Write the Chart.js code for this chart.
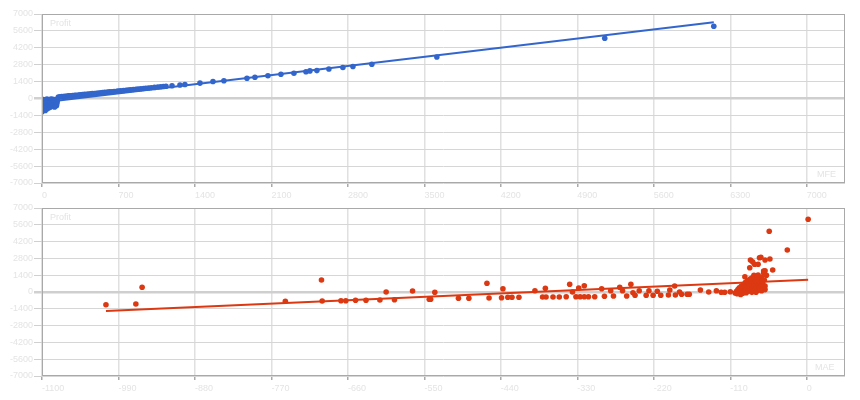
<!DOCTYPE html>
<html>
<head>
<meta charset="utf-8">
<script src="https://cdn.jsdelivr.net/npm/chart.js@4.4.1/dist/chart.umd.min.js"></script>
<style>
  html, body { margin: 0; padding: 0; background: #fff; }
  #wrap { position: relative; width: 860px; height: 400px; overflow: hidden; font-family: "Liberation Sans", Arial, sans-serif; }
  canvas { position: absolute; left: 0; }
  .lbl { position: absolute; font-size: 9px; color: #e4e4e4; white-space: nowrap; }
</style>
</head>
<body>
<div id="wrap">
  <canvas id="top" width="860" height="200" style="top:0;width:860px;height:200px"></canvas>
  <canvas id="bot" width="860" height="205" style="top:195px;width:860px;height:205px"></canvas>
  <div class="lbl" style="left:50px;top:18px">Profit</div>
  <div class="lbl" style="left:817px;top:169px">MFE</div>
  <div class="lbl" style="left:50px;top:212px">Profit</div>
  <div class="lbl" style="left:815px;top:362px">MAE</div>
</div>
<script>
// ---- data ----
const yTicks = [-7000, -5600, -4200, -2800, -1400, 0, 1400, 2800, 4200, 5600, 7000];
const mfeTicks = [0, 700, 1400, 2100, 2800, 3500, 4200, 4900, 5600, 6300, 7000];
const maeTicks = [-1100, -990, -880, -770, -660, -550, -440, -330, -220, -110, 0];

// Profit vs MFE
const mfeValues = [
  0, 5, 3, 8, 2, 10, 4, 12, 15, 18, 20, 22, 25, 28, 30, 33, 35, 38, 40, 42, 45, 48, 50, 52, 55, 58, 60, 63, 65, 68,
  70, 72, 75, 78, 80, 83, 85, 88, 90, 95, 100, 103, 106, 110, 115, 118, 120, 125, 128, 132, 135, 138, 140, 142,
  150, 165, 180, 195, 210, 230, 245, 260, 280, 300, 315, 335, 350, 370, 390, 410, 425, 445, 460, 480, 500, 520,
  540, 555, 575, 600, 620, 640, 660, 685, 700, 720, 745, 770, 790, 810, 835, 860, 880, 905, 930, 950, 975, 1000,
  1030, 1060, 1085, 1110, 1135, 1190, 1263, 1308, 1446, 1565, 1665, 1876, 1949, 2068, 2187, 2306, 2416, 2452,
  2516, 2626, 2754, 2846, 3019, 3614, 5151, 6149
];
const mfeProfit = [
  -1100, -950, -800, -650, -500, -350, -200, -80, -900, -720, -560, -400, -250, -120, -1000, -780, -600, -450, -300, -150, -50, -850, -680, -520, -380, -220, -100, -760, -620, -480,
  -330, -180, -60, -700, -560, -420, -280, -140, -40, -640, -500, -350, -200, -90, -700, -520, -380, -240, -120, -600, -450, -300, -150, -30,
  130, 140, 155, 170, 180, 200, 215, 225, 245, 260, 275, 290, 305, 320, 340, 355, 370, 390, 400, 420, 440, 455,
  470, 490, 505, 525, 545, 560, 580, 600, 615, 635, 660, 680, 700, 720, 740, 765, 780, 805, 830, 850, 870, 895,
  920, 950, 975, 1000, 1020, 1060, 1120, 1160, 1274, 1408, 1475, 1673, 1757, 1881, 2010, 2092, 2216, 2286,
  2313, 2444, 2568, 2652, 2833, 3438, 4988, 5982
];

// Profit vs MAE
const maeValues = [
  -1008, -965, -956, -750, -698, -697, -670, -663, -649, -634, -614, -605, -593, -567, -543, -541, -535, -501, -486,
  -460, -457, -439, -437, -430, -424, -414, -391, -380, -376, -375, -365, -356, -346, -341, -337, -332, -328, -326,
  -320, -320, -314, -305, -295, -291, -282, -278, -269, -265, -259, -253, -250, -247, -241, -231, -227, -221, -215,
  -210, -199, -197, -190, -189, -183, -180, -172, -169, -153, -141, -130, -123, -118, -110,
  -103, -101, -100, -99, -98, -97, -96, -95, -94, -93, -92, -91, -90, -90, -89, -88, -88, -87, -86, -85, -85, -84,
  -83, -82, -82, -81, -81, -80, -80, -79, -79, -78, -78, -78, -77, -77, -76, -76, -75, -75, -74, -74, -73, -73, -72,
  -72, -71, -70, -70, -70, -69, -68, -68, -68, -67, -66, -66, -65, -65, -64, -63, -62, -62, -61, -60, -60, -60, -60,
  -62, -54, -53, -58, -49, -64, -28, 2
];
const maeProfit = [
  -1058, -1000, 392, -775, 1000, -750, -725, -725, -692, -692, -667, 0, -642, 83, -608, -608, -20, -525, -525,
  725, -500, -475, 275, -442, -442, -442, 108, -417, 308, -417, -417, -417, -392, 642, 0, -392, 333, -392,
  525, -392, -392, -392, 275, -358, 108, -333, 392, 108, -333, 642, -58, -275, 108, -275, 108, -275, 58,
  -275, -250, 167, 500, -250, 0, -192, -192, -192, 167, 0, 108, -25, -25, 25,
  -80, 50, -150, 200, -50, 350, 100, -200, 500, 250, -100, 650, 0, 400, 1275, 150, 800, -60, 550, 300, 950, 80,
  700, 2025, 450, 2667, 1100, 200, 850, -30, 600, 1200, 350, 2525, 1000, 100, 750, 1400, 2308, 500, 250, 900, 1150, -20, 650,
  400, 1300, 2308, 150, 1417, 550, 1050, 300, 2858, 700, 2892, 450, 1250, 100, 900, 600, 1750, 350, 1000, 500, 200, 2667, 1775,
  1600, 5058, 2750, 1400, 1833, 900, 3500, 6058
];

// ---- helpers ----
function pts(xs, ys) { return xs.map((x, i) => ({ x: x, y: ys[i] })); }
function trend(xs, ys) {
  const n = xs.length;
  let sx = 0, sy = 0, sxx = 0, sxy = 0;
  for (let i = 0; i < n; i++) { sx += xs[i]; sy += ys[i]; sxx += xs[i] * xs[i]; sxy += xs[i] * ys[i]; }
  const b = (n * sxy - sx * sy) / (n * sxx - sx * sx);
  const a = (sy - b * sx) / n;
  const lo = Math.min(...xs), hi = Math.max(...xs);
  return [{ x: lo, y: a + b * lo }, { x: hi, y: a + b * hi }];
}

const TXT = '#e4e4e4';
const frame = {
  id: 'frame',
  afterDraw(chart) {
    const a = chart.chartArea, c = chart.ctx;
    c.save();
    c.strokeStyle = '#a9a9a9';
    c.lineWidth = 1;
    c.strokeRect(Math.round(a.left) + 0.5, Math.round(a.top) + 0.5, Math.round(a.right - a.left) - 1, Math.round(a.bottom - a.top) - 1);
    c.restore();
  }
};

function makeChart(id, xs, ys, color, xTicks, xMin, xMax, padTop, xH) {
  return new Chart(document.getElementById(id), {
    type: 'scatter',
    data: {
      datasets: [
        { data: pts(xs, ys), backgroundColor: color, borderWidth: 0, pointRadius: 2.8, pointHoverRadius: 2.8, order: 2 },
        { type: 'line', data: trend(xs, ys), borderColor: color, borderWidth: 2, pointRadius: 0, fill: false, order: 1 }
      ]
    },
    options: {
      responsive: false,
      animation: false,
      events: [],
      layout: { padding: { top: padTop, right: 15, left: 0, bottom: 0 } },
      plugins: { legend: { display: false }, tooltip: { enabled: false } },
      scales: {
        x: {
          type: 'linear', min: xMin, max: xMax,
          afterBuildTicks: s => { s.ticks = xTicks.map(v => ({ value: v })); },
          afterFit: s => { s.height = xH; },
          border: { display: false },
          grid: { color: '#e0e0e0', lineWidth: 1.5, tickLength: 4, tickColor: '#a9a9a9' },
          ticks: { color: TXT, font: { family: 'Liberation Sans', size: 9 }, align: 'start', padding: 3, maxRotation: 0, autoSkip: false, callback: v => String(v) }
        },
        y: {
          type: 'linear', min: -7000, max: 7000,
          afterBuildTicks: s => { s.ticks = yTicks.map(v => ({ value: v })); },
          afterFit: s => { s.width = 42; },
          border: { display: false },
          grid: {
            color: c => (c.tick && c.tick.value === 0) ? '#cfcfcf' : '#d6d6d6',
            lineWidth: c => (c.tick && c.tick.value === 0) ? 2.5 : 1,
            tickLength: 8, tickColor: '#d0d0d0'
          },
          ticks: { color: TXT, font: { family: 'Liberation Sans', size: 9 }, padding: 1, autoSkip: false, callback: v => String(v) }
        }
      }
    },
    plugins: [frame]
  });
}

makeChart('top', mfeValues, mfeProfit, '#3366cc', mfeTicks, 0, 7350, 14, 17);
makeChart('bot', maeValues, maeProfit, '#dc3912', maeTicks, -1100, 55, 13, 24);
</script>
</body>
</html>
